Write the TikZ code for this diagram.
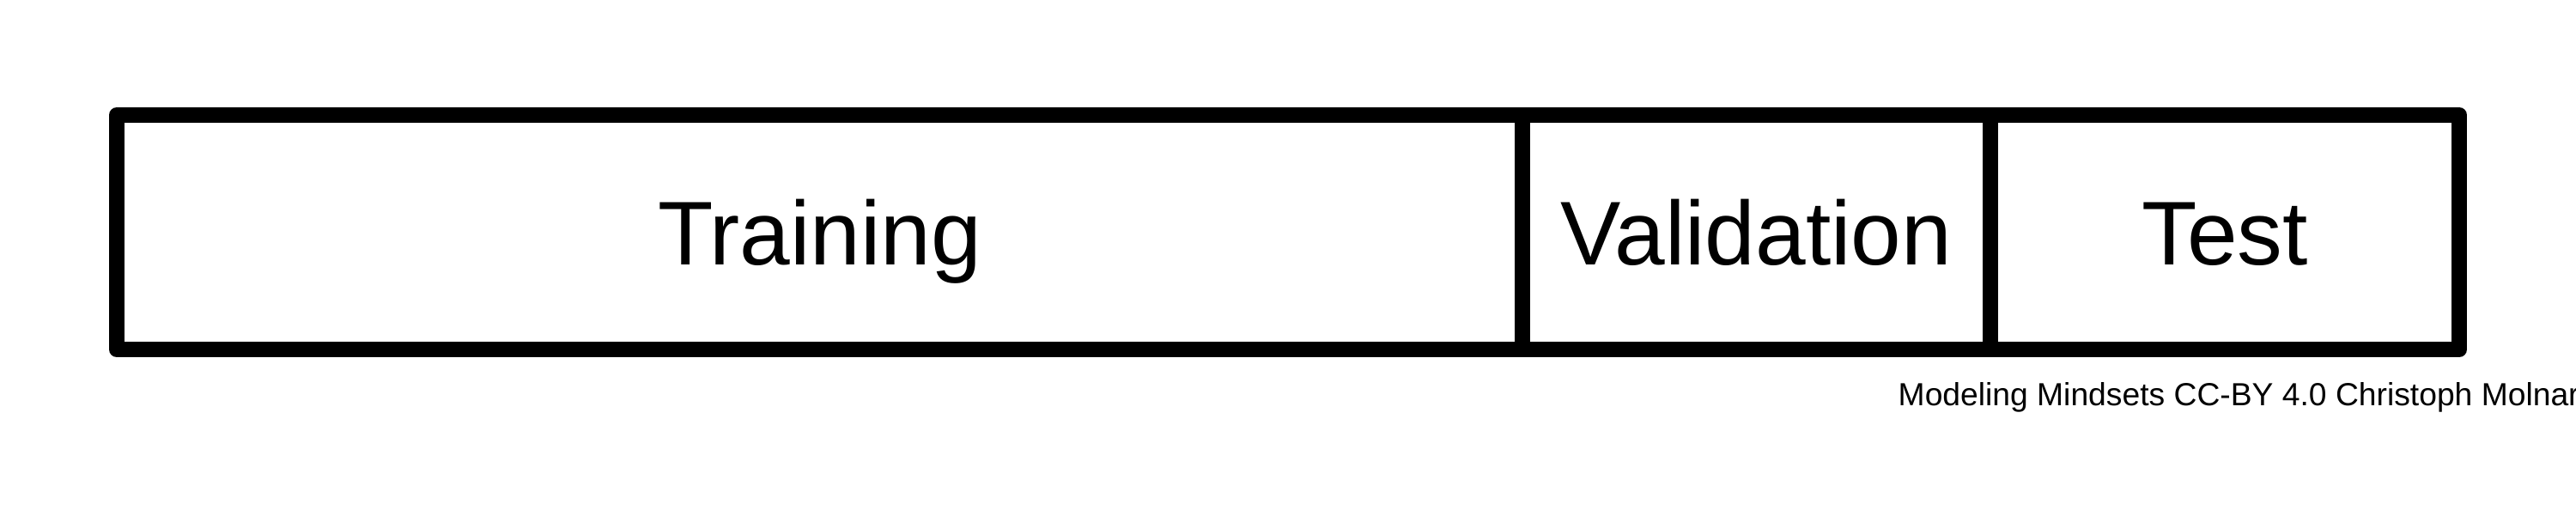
\documentclass[tikz,border=0pt]{standalone}
\usepackage{fontspec}
\setmainfont{Liberation Sans}
\usetikzlibrary{positioning}

\begin{document}
\begin{tikzpicture}[
    split/.style={draw, line width=0.18cm, line join=round, outer sep=0pt, inner sep=0pt,
      minimum height=2.73cm, font=\fontsize{30}{36}\selectfont, text height=21.5pt, text depth=0pt},
    credit/.style={font=\fontsize{10.6}{13}\selectfont, inner sep=0pt}
  ]
  \useasboundingbox (0, 0) rectangle (30, 6);

  % Data split
  \node[split, minimum width=16.37cm] (train) at (9.545, 3.295) {Training};
  \node[split, minimum width=5.45cm, right=0cm of train] (val) {Validation};
  \node[split, minimum width=5.46cm, right=0cm of val] (test) {Test};

  % Credit line
  \node[credit, anchor=base west] (note) at (22.10, 1.28) {Modeling Mindsets CC-BY 4.0 Christoph Molnar};
\end{tikzpicture}
\end{document}
